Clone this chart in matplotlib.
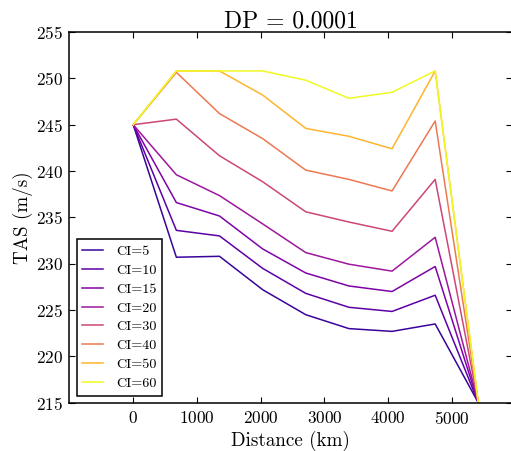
import matplotlib
matplotlib.use("Agg")
import matplotlib.pyplot as plt

plt.rcParams['font.family'] = ['cmr10', 'DejaVu Serif']
plt.rcParams['mathtext.fontset'] = 'cm'
plt.rcParams['axes.formatter.use_mathtext'] = True

# distance along route (km)
distance = [0, 677, 1354, 2031, 2708, 3385, 4062, 4739, 5416]

ci_levels = [5, 10, 15, 20, 30, 40, 50, 60]

# true air speed for each cost index (m/s)
tas_ci5 = [245, 230.7, 230.8, 227.2, 224.5, 223.0, 222.7, 223.5, 215]
tas_ci10 = [245, 233.6, 233.0, 229.5, 226.8, 225.3, 224.85, 226.6, 215]
tas_ci15 = [245, 236.6, 235.15, 231.6, 229.0, 227.6, 227.0, 229.7, 215]
tas_ci20 = [245, 239.6, 237.35, 234.3, 231.2, 229.95, 229.2, 232.85, 215]
tas_ci30 = [245, 245.6, 241.65, 238.85, 235.6, 234.5, 233.5, 239.1, 215]
tas_ci40 = [245, 250.65, 246.2, 243.5, 240.1, 239.1, 237.85, 245.4, 215]
tas_ci50 = [245, 250.8, 250.8, 248.2, 244.6, 243.75, 242.4, 250.8, 215]
tas_ci60 = [245, 250.8, 250.8, 250.8, 249.8, 247.85, 248.5, 250.8, 215]

tas_all = [tas_ci5, tas_ci10, tas_ci15, tas_ci20, tas_ci30, tas_ci40, tas_ci50, tas_ci60]

fig = plt.figure(figsize=(5.11, 4.51), dpi=100)
ax = fig.add_axes([0.136, 0.107, 0.866, 0.822])

cmap = plt.get_cmap('plasma')
for ci, tas in zip(ci_levels, tas_all):
    ax.plot(distance, tas, color=cmap(ci / 60.0), lw=1.1, label='CI=%d' % ci)

ax.set_xlim(-1000, 5945)
ax.set_ylim(215, 255)
ax.set_xticks([0, 1000, 2000, 3000, 4000, 5000])
ax.set_yticks(range(215, 256, 5))
ax.tick_params(direction='in', top=True, right=True, length=4, width=0.8,
               labelsize=12.3, pad=5)
for s in ax.spines.values():
    s.set_linewidth(1.1)

ax.set_title('DP = 0.0001', fontsize=17, pad=3)
ax.set_xlabel('Distance (km)', fontsize=13.7, labelpad=3)
ax.set_ylabel('TAS (m/s)', fontsize=13.7, labelpad=2)

leg = ax.legend(loc='lower left', fontsize=10.2, fancybox=False, framealpha=1,
                edgecolor='black', handlelength=1.5, labelspacing=0.42,
                borderaxespad=0.5, handletextpad=0.9, borderpad=0.4)
leg.get_frame().set_linewidth(1.1)

fig.savefig('out.png', dpi=100)
